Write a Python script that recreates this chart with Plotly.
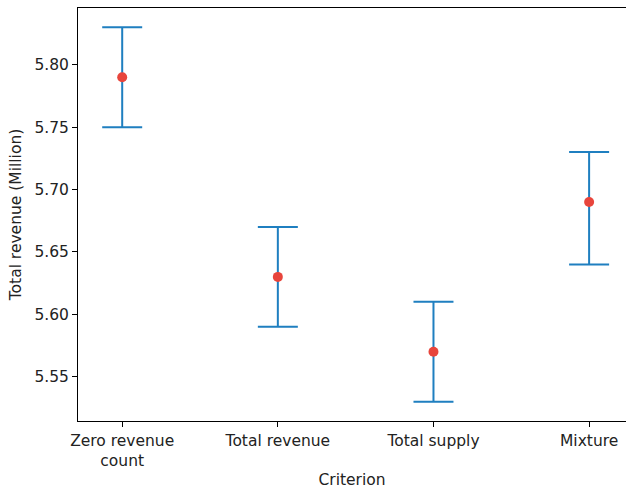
import plotly.graph_objects as go

# Criterion comparison: mean total revenue with error bars
criteria = ["Zero revenue<br>count", "Total revenue", "Total supply", "Mixture"]
mean_revenue = [5.79, 5.63, 5.57, 5.69]
error_upper = [0.04, 0.04, 0.04, 0.04]
error_lower = [0.04, 0.04, 0.04, 0.05]
y_ticks = [5.55, 5.60, 5.65, 5.70, 5.75, 5.80]

x_pos = list(range(len(criteria)))

font = dict(family="DejaVu Sans", size=15.5, color="#222222")

fig = go.Figure()
fig.add_trace(go.Scatter(
    x=x_pos,
    y=mean_revenue,
    mode="markers",
    marker=dict(color="#e8453c", size=10, line=dict(width=0)),
    error_y=dict(type="data", symmetric=False,
                 array=error_upper, arrayminus=error_lower, visible=True,
                 color="#1f7fc0", thickness=2, width=20),
    showlegend=False,
))

fig.update_layout(
    width=626, height=489,
    margin=dict(l=78, r=0, t=8, b=66),
    paper_bgcolor="white", plot_bgcolor="white",
    font=font,
    xaxis=dict(
        range=[-0.284, 3.237],
        tickmode="array", tickvals=x_pos, ticktext=criteria,
        showline=True, linecolor="black", linewidth=1, mirror=True,
        ticks="outside", ticklen=5, tickcolor="black",
        showgrid=False, zeroline=False,
        title=dict(text="Criterion", font=font, standoff=8),
    ),
    yaxis=dict(
        range=[5.5145, 5.8455],
        tickmode="array", tickvals=y_ticks,
        ticktext=[f"{v:.2f}" for v in y_ticks],
        showline=True, linecolor="black", linewidth=1, mirror=False,
        ticks="outside", ticklen=5, tickcolor="black",
        showgrid=False, zeroline=False,
        title=dict(text="Total revenue (Million)", font=font, standoff=8),
    ),
)

fig.write_html("out.html")
